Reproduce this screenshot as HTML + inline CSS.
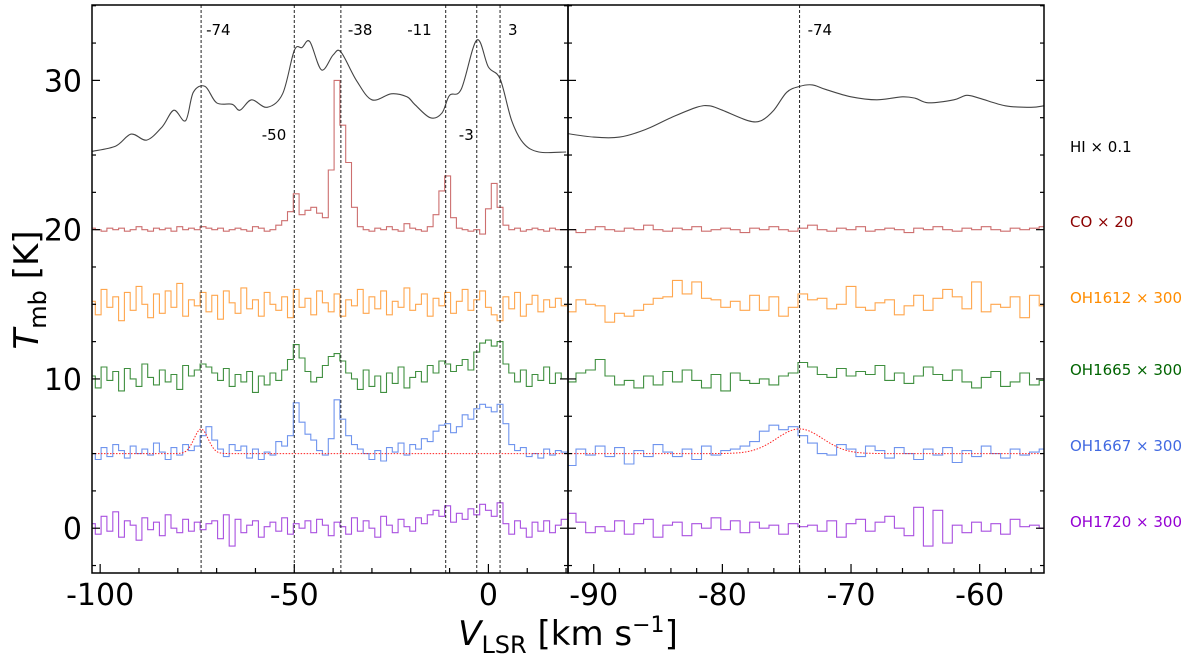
<!DOCTYPE html>
<html><head><meta charset="utf-8"><style>
html,body{margin:0;padding:0;background:#fff;}
svg{display:block;font-family:"DejaVu Sans","Liberation Sans",sans-serif;}
</style></head><body>
<svg id="chart" width="1200" height="654" viewBox="0 0 1200 654" xmlns="http://www.w3.org/2000/svg"></svg>
<script>
// ---- data ----
const leftV0 = -102, leftStep = 1.5;
const coLeft = [20.1,20.0,19.9,20.1,20.0,20.1,19.9,20.0,20.2,20.0,19.9,20.1,20.0,20.1,19.9,20.2,20.0,20.1,20.0,20.2,20.1,20.0,20.1,19.9,20.0,20.1,20.0,19.9,20.2,20.1,19.9,20.0,20.3,
20.6,21.2,22.4,21.0,21.3,21.5,21.1,20.8,24.0,30.0,27.0,24.5,21.5,20.2,
20.0,19.9,20.1,20.0,20.2,20.0,19.9,20.4,20.1,20.0,19.9,20.2,
21.0,22.6,23.6,20.8,20.1,20.0,19.9,20.0,19.7,21.4,23.1,21.5,20.3,
20.0,20.1,19.9,20.0,20.1,20.0,19.9,20.1,20.0,20.0];
const oh1612Left = [15.2,14.3,16.0,14.8,15.5,13.9,15.8,14.6,16.2,15.0,14.1,15.7,14.4,15.9,14.8,16.4,14.2,15.3,14.9,15.8,
14.5,15.6,14.0,15.9,15.1,14.4,16.1,14.7,15.3,14.2,15.8,15.0,14.6,15.5,14.1,16.0,14.8,15.4,14.3,15.9,
15.1,14.5,15.7,14.2,15.3,14.9,16.0,14.4,15.5,14.7,15.9,14.3,15.2,14.8,16.1,14.6,15.0,15.7,14.2,15.4,
14.9,15.8,14.4,15.2,16.0,14.6,15.3,15.9,14.8,14.3,13.9,15.5,14.7,15.8,14.2,15.0,15.6,14.5,15.3,14.8,15.4,14.9];
const oh1665Left = [10.2,9.4,10.8,9.9,10.5,9.2,10.7,10.0,9.5,11.0,10.1,9.6,10.6,9.8,10.3,9.3,10.9,10.2,10.6,11.0,
10.8,10.4,9.9,10.7,9.5,10.3,9.8,10.5,9.1,10.2,9.6,10.4,9.9,10.6,11.3,12.3,11.4,10.5,9.8,10.1,
10.9,11.5,11.7,11.2,10.4,10.0,9.3,10.6,9.5,10.2,9.1,10.4,9.7,10.8,9.4,10.1,10.5,9.8,10.9,10.4,
11.2,11.0,10.5,10.9,11.3,10.6,11.8,12.4,12.6,12.2,12.5,11.0,10.4,9.8,10.6,9.5,10.3,9.9,10.8,9.7,10.4,10.0];
const oh1667Left = [5.0,4.6,5.4,4.8,5.6,5.2,4.7,5.5,5.0,5.3,4.9,5.7,5.1,4.6,5.4,4.9,5.6,5.2,5.5,6.2,
6.8,5.9,5.3,4.8,5.6,5.2,5.5,4.7,5.3,4.6,5.1,4.9,5.8,5.5,6.2,8.4,7.1,6.3,5.9,5.2,
4.9,6.0,8.6,7.3,6.2,5.6,5.3,5.0,4.6,5.2,4.5,5.4,5.1,5.7,4.9,5.6,5.3,6.0,5.8,6.5,
6.9,7.0,6.4,6.8,7.6,7.3,8.0,8.3,8.1,7.8,8.3,7.0,5.6,5.2,5.4,4.8,5.0,4.7,5.3,4.9,5.2,5.1];
const oh1720Left = [0.3,-0.4,0.8,-0.2,1.1,-0.6,0.5,0.2,-0.8,0.7,-0.1,0.4,-0.5,0.9,0.0,-0.3,0.6,-0.2,0.4,-0.1,
0.3,0.5,-0.7,0.9,-1.2,0.6,-0.3,0.2,0.5,-0.6,0.1,0.4,-0.2,0.7,-0.4,0.3,0.0,0.5,-0.3,0.6,
0.2,-0.5,0.4,0.1,-0.4,0.7,-0.2,0.5,0.0,-0.6,0.8,0.2,-0.3,0.6,0.1,-0.2,0.7,0.3,0.9,1.2,
0.8,1.5,0.4,1.0,0.6,1.3,0.9,1.6,1.2,0.8,1.7,0.3,-0.4,0.5,0.0,-0.6,0.4,-0.2,0.5,-0.3,0.2,0.6];
const hiLeftV = [-102,-96,-92,-88,-84,-81,-78,-76,-73,-70,-66,-64,-61,-57,-53,-50,-48,-46,-43,-40,-38,-34,-30,-25,-21,-19,-15,-12,-10,-7,-3,0,3,6,9,13,20];
const hiLeftT = [25.25,25.6,26.4,26.0,26.9,28.0,27.3,29.2,29.6,28.5,28.4,28.0,28.7,28.2,29.1,32.0,32.2,32.6,30.7,31.7,31.9,30.0,28.7,29.1,28.9,28.4,27.5,27.8,29.0,29.4,32.7,30.9,30.1,27.3,25.8,25.2,25.2];

const rightV0 = -92.5, rightStep = 0.75;
const coRight = [20.1,20.0,19.8,20.0,20.2,20.0,19.9,20.1,20.0,20.3,20.0,19.9,20.1,20.0,20.2,19.9,20.0,20.1,20.0,19.8,20.1,20.0,20.2,20.0,19.9,20.1,20.3,20.0,19.9,20.1,20.0,20.2,19.9,20.0,20.1,20.0,19.8,20.1,20.0,20.2,20.0,19.9,20.1,20.0,20.2,20.0,19.9,20.1,20.0,20.1,20.2];
const oh1612Right = [14.8,14.5,15.3,15.0,14.9,13.8,14.4,14.2,14.6,15.0,15.4,15.5,16.6,15.7,16.5,15.4,15.3,14.8,15.2,14.6,15.6,14.6,15.5,14.2,14.8,15.7,15.3,15.4,14.7,15.0,16.2,14.8,14.6,15.1,15.3,14.3,14.9,15.6,14.6,15.4,16.0,15.5,14.7,16.5,14.5,15.0,14.8,15.5,14.1,15.6,14.9];
const oh1665Right = [10.0,9.8,10.4,10.6,11.3,10.2,9.6,9.9,9.4,10.2,9.6,10.5,9.8,10.6,9.9,9.4,10.3,9.2,10.4,9.9,9.7,10.0,9.6,10.2,10.4,11.1,10.8,10.3,10.1,10.7,10.2,10.5,10.3,10.9,9.9,10.4,9.7,10.2,10.8,10.3,9.9,10.6,9.8,9.4,10.1,10.5,9.5,9.8,10.4,9.6,9.9];
const oh1667Right = [5.0,4.2,5.3,4.9,5.5,4.8,5.4,4.3,5.2,4.8,5.6,5.1,4.8,5.3,4.6,5.5,4.9,5.2,5.3,5.5,5.8,6.5,6.9,6.6,6.8,6.2,5.7,5.0,4.9,5.6,5.3,4.8,5.5,5.2,4.7,5.4,5.0,4.6,5.3,4.9,5.4,4.4,5.2,4.8,5.5,5.0,4.7,5.3,4.9,5.1,5.3];
const oh1720Right = [0.2,1.0,0.4,-0.3,0.1,-0.2,0.5,-0.4,0.3,0.6,-0.6,0.2,0.4,-0.5,0.3,0.0,0.7,-0.1,0.5,-0.3,0.4,0.0,0.2,-0.4,0.3,0.1,0.2,-0.2,0.5,-0.6,0.3,0.6,-0.2,0.4,0.8,0.0,-0.5,1.4,-1.2,1.2,-1.0,0.2,-0.3,0.4,-0.2,0.3,-0.4,0.6,0.1,0.2,0.0];
const hiRightV = [-92.5,-90,-88,-86,-84,-82,-81,-80,-78,-77,-76,-75,-74,-73,-72,-70,-68,-66,-65,-64,-62,-61,-60,-58,-56,-55];
const hiRightT = [26.5,26.2,26.2,26.7,27.5,28.2,28.3,28.0,27.3,27.3,28.0,29.2,29.6,29.7,29.4,28.9,28.7,28.9,28.8,28.5,28.7,29.0,28.8,28.3,28.2,28.3];

const fitCenter = [-74], fitAmp = [1.65], fitSigma = [1.8], fitBase = [5];
const markLeft = [-74,-50,-38,-11,-3,3];
const markRight = [-74];
const yTicks = [0,10,20,30];
const leftXTicks = [-100,-50,0];
const rightXTicks = [-90,-80,-70,-60];
const seriesLabels = ['HI × 0.1','CO × 20','OH1612 × 300','OH1665 × 300','OH1667 × 300','OH1720 × 300'];
const seriesLabelColors = ['#000000','#8b0000','#ff8c00','#006400','#4169e1','#9400d3'];
const seriesLabelY = [147,222,298,370,446,522];

// ---- geometry ----
const svg = document.getElementById('chart');
const NS = 'http://www.w3.org/2000/svg';
const top_ = 5, bot = 573;
const yMin = -3.0, yMax = 35.05;
const y = v => bot - (v - yMin) / (yMax - yMin) * (bot - top_);
const L = {x0: 92, x1: 568, v0: -102.1, v1: 20.5};
const R = {x0: 568, x1: 1044, v0: -92.0, v1: -55.0};
const xs = (p, v) => p.x0 + (v - p.v0) / (p.v1 - p.v0) * (p.x1 - p.x0);

function mk(tag, attrs, parent) {
  const e = document.createElementNS(NS, tag);
  for (const k in attrs) e.setAttribute(k, attrs[k]);
  (parent || svg).appendChild(e);
  return e;
}
function clip(id, p) {
  const c = mk('clipPath', {id: id});
  mk('rect', {x: p.x0, y: top_, width: p.x1 - p.x0, height: bot - top_}, c);
}
clip('cl', L); clip('cr', R);

function stepPath(p, v0, st, arr) {
  let d = '';
  for (let i = 0; i < arr.length; i++) {
    const xa = xs(p, v0 + (i - 0.5) * st), xb = xs(p, v0 + (i + 0.5) * st), yy = y(arr[i]);
    d += (i === 0 ? 'M' : 'L') + xa.toFixed(1) + ',' + yy.toFixed(1) + 'L' + xb.toFixed(1) + ',' + yy.toFixed(1);
  }
  return d;
}
function smoothPath(p, V, T) {
  const P = V.map((v, i) => [xs(p, v), y(T[i])]);
  let d = 'M' + P[0][0].toFixed(1) + ',' + P[0][1].toFixed(1);
  for (let i = 0; i < P.length - 1; i++) {
    const p0 = P[Math.max(0, i - 1)], p1 = P[i], p2 = P[i + 1], p3 = P[Math.min(P.length - 1, i + 2)];
    const c1 = [p1[0] + (p2[0] - p0[0]) / 6, p1[1] + (p2[1] - p0[1]) / 6];
    const c2 = [p2[0] - (p3[0] - p1[0]) / 6, p2[1] - (p3[1] - p1[1]) / 6];
    d += 'C' + c1.map(n => n.toFixed(1)).join(',') + ' ' + c2.map(n => n.toFixed(1)).join(',') + ' ' + p2[0].toFixed(1) + ',' + p2[1].toFixed(1);
  }
  return d;
}
function fitPath(p) {
  let d = '';
  for (let px = p.x0; px <= p.x1; px += 2) {
    const v = p.v0 + (px - p.x0) / (p.x1 - p.x0) * (p.v1 - p.v0);
    let t = fitBase[0];
    for (let k = 0; k < fitCenter.length; k++) t += fitAmp[k] * Math.exp(-0.5 * Math.pow((v - fitCenter[k]) / fitSigma[k], 2));
    d += (d ? 'L' : 'M') + px.toFixed(1) + ',' + y(t).toFixed(1);
  }
  return d;
}

function panel(p, side, v0, st, data, hiV, hiT, marks) {
  const g = mk('g', {'clip-path': 'url(#c' + side + ')'});
  
  
  const hi = mk('path', {d: smoothPath(p, hiV, hiT), fill: 'none', stroke: '#444', 'stroke-width': 1.1}, g);
  
  
  const cols = ['#cd6f6f', '#ffa64d', '#3f8f3f', '#6f94ee', '#a950e0'];
  const names = ['co-spectrum', 'oh1612-spectrum', 'oh1665-spectrum', 'oh1667-spectrum', 'oh1720-spectrum'];
  data.forEach((arr, k) => {
    const s = mk('path', {d: stepPath(p, v0, st, arr), fill: 'none', stroke: cols[k], 'stroke-width': 1.1}, g);
    
    
  });
  const f = mk('path', {d: fitPath(p), fill: 'none', stroke: '#ff2020', 'stroke-width': 1, 'stroke-dasharray': '1.5,1.5'}, g);
  
  
  marks.forEach(m => {
    const ln = mk('line', {x1: xs(p, m), x2: xs(p, m), y1: top_, y2: bot, stroke: '#222', 'stroke-width': 1, 'stroke-dasharray': '3,2'}, g);
    
    
  });
}
panel(L, 'l', leftV0, leftStep, [coLeft, oh1612Left, oh1665Left, oh1667Left, oh1720Left], hiLeftV, hiLeftT, markLeft);
panel(R, 'r', rightV0, rightStep, [coRight, oh1612Right, oh1665Right, oh1667Right, oh1720Right], hiRightV, hiRightT, markRight);

// marker annotations
const ann = [['-74', xs(L, -74) + 5, 35, 'start'], ['-38', xs(L, -38) + 7, 35, 'start'], ['-11', xs(L, -11) - 14, 35, 'end'], ['3', xs(L, 3) + 8, 35, 'start'],
             ['-50', xs(L, -50) - 8, 140, 'end'], ['-3', xs(L, -3) - 3, 140, 'end'], ['-74', xs(R, -74) + 8, 35, 'start']];
ann.forEach(a => {
  const t = mk('text', {x: a[1], y: a[2], 'font-size': 15, 'text-anchor': a[3], fill: '#000'});
  t.textContent = a[0];
  
  
});

// frames
[L, R].forEach((p, i) => {
  const r = mk('rect', {x: p.x0, y: top_, width: p.x1 - p.x0, height: bot - top_, fill: 'none', stroke: '#000', 'stroke-width': 1.5});
  
  
});

// y ticks
function yTicksAt(x, dir) {
  for (let v = -2.5; v <= 35; v += 2.5) {
    const major = Math.abs(v % 10) < 1e-6;
    mk('line', {x1: x, x2: x + dir * (major ? 8 : 4), y1: y(v), y2: y(v), stroke: '#000', 'stroke-width': 1.2});
  }
}
yTicksAt(L.x0, 1); yTicksAt(R.x0, -1); yTicksAt(R.x0, 1); yTicksAt(R.x1, -1);
yTicks.forEach(v => {
  const t = mk('text', {x: 82, y: y(v) + 11, 'font-size': 30, 'text-anchor': 'end', fill: '#000'});
  t.textContent = String(v);
  
  
});
// x ticks
function xTicks(p, minorStep, majors) {
  const start = Math.ceil(p.v0 / minorStep) * minorStep;
  for (let v = start; v <= p.v1; v += minorStep) {
    const major = majors.some(m => Math.abs(m - v) < 1e-6);
    mk('line', {x1: xs(p, v), x2: xs(p, v), y1: bot, y2: bot - (major ? 9 : 5), stroke: '#000', 'stroke-width': 1.2});
  }
  majors.forEach(m => {
    const t = mk('text', {x: xs(p, m), y: 605, 'font-size': 30, 'text-anchor': 'middle', fill: '#000'});
    t.textContent = String(m);
    
    
  });
}
xTicks(L, 10, leftXTicks);
xTicks(R, 2, rightXTicks);

// legend labels
seriesLabels.forEach((s, i) => {
  const t = mk('text', {x: 1070, y: seriesLabelY[i] + 5, 'font-size': 15, fill: seriesLabelColors[i]});
  t.textContent = s;
  
  
});

// axis titles
const xt = mk('text', {x: 568, y: 645, 'font-size': 34, 'text-anchor': 'middle', fill: '#000'});
xt.innerHTML = '<tspan font-style="italic">V</tspan><tspan font-size="24" dy="8">LSR</tspan><tspan dy="-8"> [km s</tspan><tspan font-size="22" dy="-13">−1</tspan><tspan dy="13">]</tspan>';


const yt = mk('text', {x: 0, y: 0, 'font-size': 34, 'text-anchor': 'middle', fill: '#000', transform: 'translate(38,290) rotate(-90)'});
yt.innerHTML = '<tspan font-style="italic">T</tspan><tspan font-size="24" dy="8">mb</tspan><tspan dy="-8"> [K]</tspan>';


</script>
</body></html>
